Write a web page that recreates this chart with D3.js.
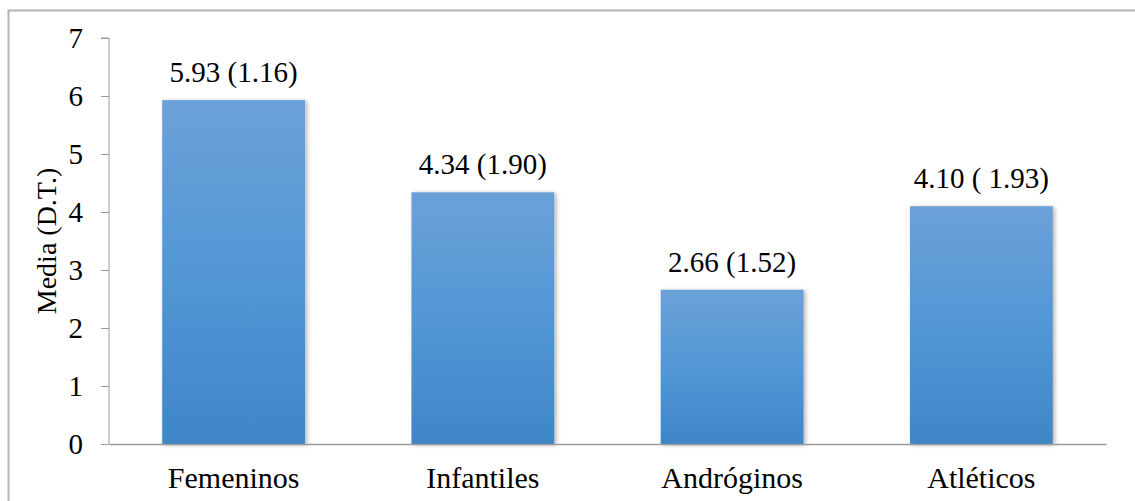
<!DOCTYPE html>
<html>
<head>
<meta charset="utf-8">
<script src="https://cdn.jsdelivr.net/npm/d3@7"></script>
<style>
  html, body { margin: 0; padding: 0; background: #fff; }
  svg { display: block; }
  text { font-family: "Liberation Serif", "Times New Roman", serif; fill: #000; }
</style>
</head>
<body>
<svg id="chart" width="1135" height="501"></svg>
<script>
// Mean scores (with standard deviation) by body-type category
const categories = ["Femeninos", "Infantiles", "Andróginos", "Atléticos"];
const means = [5.93, 4.34, 2.66, 4.10];
const valueLabels = ["5.93 (1.16)", "4.34 (1.90)", "2.66 (1.52)", "4.10 ( 1.93)"];
const yTicks = [0, 1, 2, 3, 4, 5, 6, 7];
const yTitle = "Media (D.T.)";

const svg = d3.select("#chart");
const W = 1135, H = 501;
const margin = { left: 109, right: 1135 - 1106, top: 38, bottom: 501 - 444 };

// outer frame (open on the right and bottom edges)
svg.append("path")
  .attr("d", `M8.5,${H + 2} V10.5 H${W + 2}`)
  .attr("fill", "none")
  .attr("stroke", "#b4b4b4")
  .attr("stroke-width", 2);

const x = d3.scaleBand()
  .domain(categories)
  .range([margin.left, W - margin.right])
  .paddingInner(0.427)
  .paddingOuter(0.2135);

const y = d3.scaleLinear()
  .domain([0, 7])
  .range([H - margin.bottom, margin.top]);

const defs = svg.append("defs");
const grad = defs.append("linearGradient")
  .attr("id", "barFill").attr("x1", 0).attr("y1", 0).attr("x2", 0).attr("y2", 1);
grad.append("stop").attr("offset", "0%").attr("stop-color", "#6ca1d8");
grad.append("stop").attr("offset", "50%").attr("stop-color", "#5297d6");
grad.append("stop").attr("offset", "100%").attr("stop-color", "#3f86c6");

const shadow = defs.append("filter").attr("id", "shadow")
  .attr("x", "-10%").attr("y", "-10%").attr("width", "130%").attr("height", "130%");
shadow.append("feDropShadow")
  .attr("dx", 2).attr("dy", 1).attr("stdDeviation", 2)
  .attr("flood-color", "#000").attr("flood-opacity", 0.3);

// bars
svg.append("g").selectAll("rect")
  .data(categories)
  .join("rect")
  .attr("x", d => x(d))
  .attr("y", (d, i) => y(means[i]))
  .attr("width", x.bandwidth())
  .attr("height", (d, i) => y(0) - y(means[i]))
  .attr("fill", "url(#barFill)")
  .attr("filter", "url(#shadow)");

// value labels
svg.append("g").selectAll("text")
  .data(categories)
  .join("text")
  .attr("x", d => x(d) + x.bandwidth() / 2)
  .attr("y", (d, i) => y(means[i]) - 18)
  .attr("text-anchor", "middle")
  .attr("font-size", 29)
  .text((d, i) => valueLabels[i]);

// y axis
const yAxis = d3.axisLeft(y).tickValues(yTicks).tickSize(8).tickPadding(18).tickFormat(d3.format("d"));
const gy = svg.append("g")
  .attr("transform", `translate(${margin.left},0)`)
  .call(yAxis);
gy.select(".domain").attr("stroke", "#9a9a9a").attr("d", `M-8,${y(7)}H0V${y(0)}`);
gy.selectAll(".tick line").attr("stroke", "#9a9a9a");
gy.selectAll(".tick text")
  .attr("font-size", 29)
  .attr("fill", "#000");

// x axis
const xAxis = d3.axisBottom(x).tickSize(0).tickPadding(23);
const gx = svg.append("g")
  .attr("transform", `translate(0,${y(0)})`)
  .call(xAxis);
gx.select(".domain").attr("stroke", "#9a9a9a").attr("stroke-width", 1.5);
gx.selectAll(".tick text")
  .attr("font-size", 30)
  .attr("fill", "#000");

// y axis title
svg.append("text")
  .attr("transform", `translate(56,${(y(0) + y(7)) / 2}) rotate(-90)`)
  .attr("text-anchor", "middle")
  .attr("font-size", 28)
  .text(yTitle);
</script>
</body>
</html>
